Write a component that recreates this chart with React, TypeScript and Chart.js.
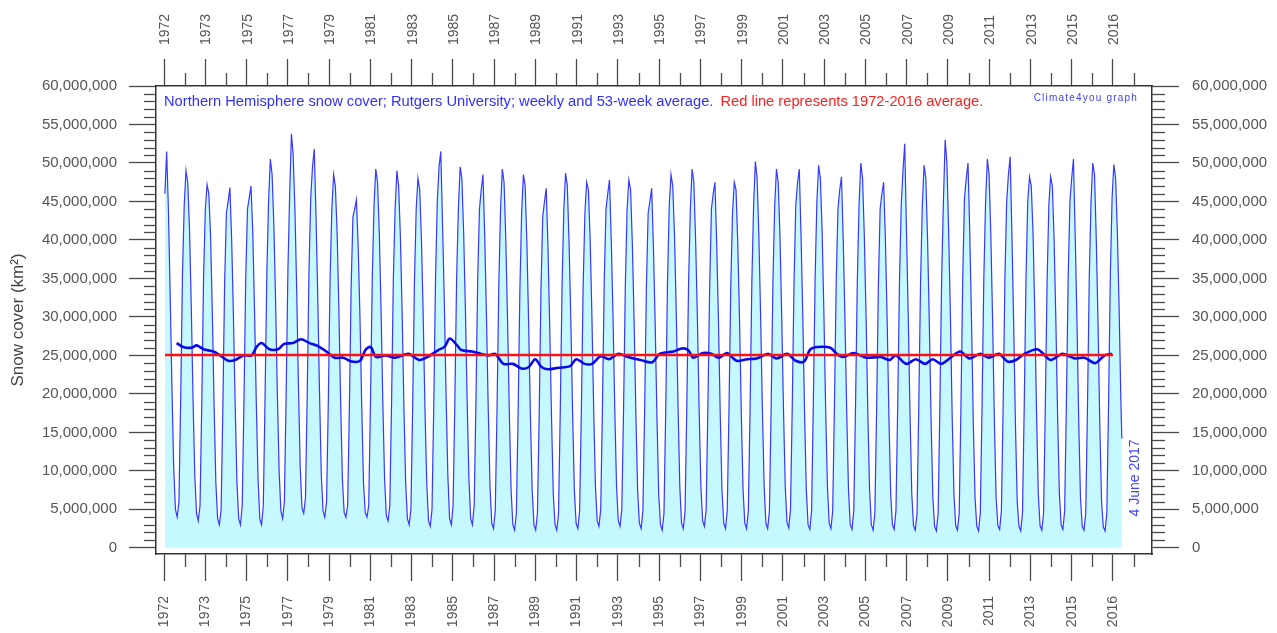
import React, { useEffect, useRef } from 'react';
import { Chart, registerables } from 'chart.js';
Chart.register(...registerables);

// ---------- DATA (million km²) ----------
const START_YEAR = 1972;
// monthly Northern Hemisphere snow cover, Jan..Dec, one row per year (1972..2017)
const SNOW_MONTHLY: number[][] = [
  [46.0, 51.5, 44.0, 33.0, 21.0, 10.5, 5.0, 4.0, 6.0, 19.5, 35.5, 44.5], // 1972
  [49.0, 47.5, 41.5, 31.5, 19.5, 9.5, 4.5, 3.5, 5.5, 19.0, 35.0, 44.0],  // 1973
  [47.2, 46.0, 40.5, 30.5, 18.5, 8.5, 3.8, 3.0, 5.0, 18.5, 34.5, 43.5],  // 1974
  [45.0, 46.8, 40.0, 30.0, 18.5, 8.5, 3.8, 3.0, 5.5, 19.0, 35.0, 44.0],  // 1975
  [45.5, 47.0, 41.0, 31.0, 19.0, 9.0, 3.8, 3.0, 5.5, 19.5, 35.5, 45.0],  // 1976
  [50.5, 48.5, 42.0, 32.0, 20.0, 10.0, 4.8, 3.8, 6.0, 20.0, 36.0, 46.0], // 1977
  [53.8, 51.0, 44.0, 33.5, 21.0, 10.5, 5.2, 4.5, 6.5, 20.0, 36.0, 45.5], // 1978
  [49.5, 51.8, 43.0, 32.5, 20.0, 9.5, 4.8, 4.0, 6.0, 19.0, 35.0, 44.0],  // 1979
  [48.5, 47.0, 41.0, 31.0, 19.0, 9.0, 4.6, 4.0, 5.5, 18.5, 34.0, 43.0],  // 1980
  [44.0, 45.2, 39.0, 30.0, 18.5, 8.5, 4.6, 4.0, 5.5, 19.0, 35.0, 44.5],  // 1981
  [49.2, 47.5, 41.0, 31.0, 19.0, 9.0, 4.2, 3.5, 5.5, 19.0, 35.0, 44.0],  // 1982
  [49.0, 47.0, 40.5, 30.5, 18.5, 8.5, 3.8, 3.0, 5.0, 18.5, 34.5, 44.0],  // 1983
  [48.0, 46.5, 40.0, 30.0, 18.0, 8.5, 3.5, 2.8, 5.0, 18.5, 35.0, 45.0],  // 1984
  [49.5, 51.5, 42.0, 32.0, 20.0, 9.5, 3.8, 3.0, 5.5, 19.0, 35.0, 44.0],  // 1985
  [49.5, 48.0, 41.0, 31.0, 19.0, 9.0, 3.8, 3.0, 5.5, 19.0, 35.0, 44.0],  // 1986
  [46.5, 48.5, 40.5, 30.0, 18.0, 8.0, 3.2, 2.5, 4.8, 18.0, 34.0, 44.0],  // 1987
  [49.2, 47.5, 40.0, 29.5, 17.5, 7.5, 3.0, 2.3, 4.5, 17.5, 33.5, 43.5],  // 1988
  [48.5, 47.0, 39.5, 29.0, 17.0, 7.5, 3.0, 2.3, 4.5, 17.5, 33.5, 43.0],  // 1989
  [45.0, 46.7, 39.0, 28.5, 17.0, 7.0, 3.0, 2.3, 4.5, 18.0, 34.0, 44.0],  // 1990
  [48.7, 47.0, 39.5, 29.5, 17.5, 7.5, 3.2, 2.5, 4.8, 18.0, 34.0, 43.5],  // 1991
  [47.5, 46.5, 40.0, 30.0, 18.0, 8.0, 3.5, 2.8, 5.0, 18.5, 34.5, 44.0],  // 1992
  [46.0, 47.8, 40.0, 30.0, 18.0, 8.0, 3.5, 2.8, 5.0, 18.0, 34.0, 44.0],  // 1993
  [47.8, 46.5, 39.5, 29.5, 17.5, 7.5, 3.2, 2.5, 4.8, 18.0, 34.0, 43.5],  // 1994
  [45.0, 46.7, 39.0, 29.0, 17.0, 7.0, 3.0, 2.3, 4.5, 18.0, 34.5, 44.5],  // 1995
  [48.5, 47.0, 40.5, 30.5, 18.5, 8.0, 3.2, 2.5, 4.8, 18.5, 34.5, 44.0],  // 1996
  [49.2, 47.5, 40.0, 30.0, 18.0, 8.0, 3.5, 2.8, 5.0, 18.5, 34.0, 44.0],  // 1997
  [46.0, 47.5, 39.5, 29.5, 17.5, 7.5, 3.2, 2.5, 4.8, 18.0, 34.0, 43.5],  // 1998
  [47.5, 46.5, 39.5, 29.5, 17.5, 7.5, 3.2, 2.5, 4.8, 18.0, 34.5, 44.5],  // 1999
  [50.2, 48.0, 40.5, 30.0, 18.0, 8.0, 3.2, 2.5, 4.8, 18.5, 34.5, 44.5],  // 2000
  [49.2, 47.5, 40.5, 30.0, 18.0, 8.0, 3.3, 2.6, 5.0, 18.5, 34.5, 44.5],  // 2001
  [47.5, 49.2, 40.5, 30.0, 17.5, 7.5, 3.0, 2.4, 4.8, 19.0, 35.0, 45.0],  // 2002
  [49.7, 48.0, 41.0, 30.5, 18.0, 8.0, 3.2, 2.5, 4.8, 18.5, 34.5, 44.0],  // 2003
  [46.5, 48.2, 40.0, 29.5, 17.5, 7.5, 3.0, 2.4, 4.8, 18.5, 34.5, 44.5],  // 2004
  [50.0, 48.0, 40.5, 30.0, 17.5, 7.5, 3.0, 2.3, 4.5, 18.0, 34.0, 44.0],  // 2005
  [46.0, 47.5, 40.0, 29.5, 17.0, 7.0, 3.0, 2.4, 4.8, 18.5, 34.5, 44.5],  // 2006
  [49.0, 52.5, 41.0, 30.0, 17.5, 7.0, 2.9, 2.3, 4.5, 18.5, 34.5, 44.5],  // 2007
  [49.7, 48.0, 40.0, 29.0, 16.5, 6.5, 2.8, 2.2, 4.5, 18.5, 35.0, 45.0],  // 2008
  [53.0, 50.0, 41.0, 30.0, 17.0, 7.0, 2.9, 2.3, 4.5, 18.5, 35.0, 45.5],  // 2009
  [48.0, 50.0, 41.0, 29.5, 16.5, 6.5, 2.8, 2.2, 4.5, 18.5, 35.0, 45.0],  // 2010
  [50.5, 48.5, 40.5, 29.5, 16.5, 6.5, 2.9, 2.4, 4.8, 18.5, 35.0, 45.0],  // 2011
  [48.5, 50.8, 40.5, 29.0, 16.0, 6.0, 2.8, 2.2, 4.5, 18.5, 35.0, 45.0],  // 2012
  [48.2, 47.0, 41.0, 30.5, 17.5, 7.0, 2.9, 2.3, 4.5, 18.5, 34.5, 44.5],  // 2013
  [48.2, 47.0, 40.0, 29.5, 17.0, 7.0, 3.0, 2.4, 4.8, 19.0, 35.0, 45.0],  // 2014
  [48.0, 50.5, 40.5, 29.5, 16.5, 6.5, 2.8, 2.3, 4.5, 18.5, 35.0, 45.0],  // 2015
  [50.0, 48.5, 40.0, 29.0, 16.0, 6.0, 2.7, 2.2, 4.5, 19.0, 35.5, 45.5],  // 2016
  [49.8, 48.0, 41.0, 31.0, 19.0],                                        // 2017
];
const LAST_WEEK_DATE = 2017.42; // 4 June 2017
const LAST_WEEK_VALUE = 14.2;

// 53-week running average (million km²)
const AVG_DATES = [1972.6,1972.9,1973.3,1973.55,1973.87,1974.34,1974.66,1975.05,1975.37,1975.76,1976.15,1976.39,1976.63,1977.0,1977.4,1977.7,1978.1,1978.5,1978.9,1979.3,1979.7,1980.1,1980.5,1980.9,1981.3,1981.55,1981.8,1982.05,1982.5,1982.95,1983.6,1984.1,1984.5,1985.0,1985.3,1985.55,1985.9,1986.1,1986.6,1986.9,1987.4,1987.7,1988.1,1988.55,1988.95,1989.3,1989.6,1989.9,1990.2,1990.7,1991.25,1991.55,1991.95,1992.3,1992.7,1993.1,1993.55,1994.0,1994.6,1995.15,1995.5,1996.15,1996.55,1996.85,1997.1,1997.55,1997.95,1998.3,1998.7,1999.15,1999.65,2000.1,2000.65,2001.05,2001.55,2001.95,2002.35,2002.65,2003.0,2003.6,2003.9,2004.2,2004.7,2005.3,2006.0,2006.4,2006.7,2007.2,2007.65,2008.1,2008.45,2008.85,2009.25,2009.75,2010.2,2010.7,2011.1,2011.6,2012.0,2012.4,2012.8,2013.4,2013.7,2014.05,2014.6,2015.2,2015.65,2016.15,2016.6,2016.95];
const AVG_VALUES = [26.6,26.1,26.0,26.3,25.8,25.5,25.0,24.3,24.4,25.0,25.0,26.1,26.6,25.8,25.8,26.5,26.6,27.1,26.6,26.2,25.5,24.7,24.7,24.2,24.3,25.7,26.1,24.8,25.0,24.7,25.2,24.4,24.8,25.7,26.1,27.2,26.3,25.7,25.5,25.3,25.0,25.2,23.9,23.9,23.3,23.5,24.5,23.5,23.2,23.4,23.6,24.5,23.9,23.9,24.9,24.5,25.2,24.8,24.4,24.1,25.2,25.5,25.9,25.7,24.7,25.3,25.2,24.7,25.3,24.3,24.5,24.6,25.2,24.6,25.2,24.3,24.2,25.8,26.1,26.0,25.2,24.8,25.3,24.7,24.8,24.4,25.0,23.9,24.5,23.9,24.5,23.9,24.6,25.5,24.6,25.2,24.7,25.2,24.2,24.4,25.2,25.8,25.2,24.4,25.2,24.6,24.7,24.0,25.0,25.2];

// 1972-2016 average (red line)
const MEAN_VALUE = 25.05;
const MEAN_SPAN = [1972.05, 2017.0];

// axis tick labels
const X_TICK_LABELS = ['1972','1973','1975','1977','1979','1981','1983','1985','1987','1989','1991','1993','1995','1997','1999','2001','2003','2005','2007','2009','2011','2013','2015','2016'];
const X_TICK_FIRST = 1972;
const X_TICK_LAST = 2017;
const Y_TICKS = [0, 5e6, 10e6, 15e6, 20e6, 25e6, 30e6, 35e6, 40e6, 45e6, 50e6, 55e6, 60e6];

const TITLE_BLUE = 'Northern Hemisphere snow cover; Rutgers University; weekly and 53-week average.';
const TITLE_RED = 'Red line represents 1972-2016 average.';
const CREDIT = 'Climate4you graph';
const DATE_NOTE = '4 June 2017';
const Y_TITLE = 'Snow cover (km\u00B2)';

// ---------- layout ----------
const W = 1277, H = 633;
const X_MIN = 1971.62, X_MAX = 2018.85;
const Y_MIN = -800000, Y_MAX = 60000000;
const FONT = '"Liberation Sans", Arial, Helvetica, sans-serif';

const xStep = (X_TICK_LAST - X_TICK_FIRST) / (X_TICK_LABELS.length - 1);
const xTickValues = X_TICK_LABELS.map((_, i) => X_TICK_FIRST + i * xStep);

const fmt = (v: number) => Math.round(v).toLocaleString('en-US');

const decorPlugin = {
  id: 'decor',
  afterDraw(chart: any) {
    const { ctx, chartArea: ca, scales } = chart;
    const xs = scales.x, ys = scales.y;
    ctx.save();
    ctx.strokeStyle = '#4a4a4a';
    ctx.lineWidth = 1.3;
    const line = (x1: number, y1: number, x2: number, y2: number) => {
      ctx.beginPath(); ctx.moveTo(x1, y1); ctx.lineTo(x2, y2); ctx.stroke();
    };
    // minor y ticks every 1,000,000
    for (let v = 0; v <= 60; v++) {
      if (v % 5 === 0) continue;
      const py = Math.round(ys.getPixelForValue(v * 1e6)) + 0.5;
      line(ca.left - 12, py, ca.left, py);
      line(ca.right, py, ca.right + 13, py);
    }
    // minor x ticks between majors
    for (let i = 0; i < X_TICK_LABELS.length; i++) {
      const v = X_TICK_FIRST + (i + 0.5) * xStep;
      if (v > X_MAX) break;
      const px = Math.round(xs.getPixelForValue(v)) + 0.5;
      line(px, ca.top - 13, px, ca.top);
      line(px, ca.bottom, px, ca.bottom + 13);
    }
    // title inside plot
    ctx.font = `14.7px ${FONT}`;
    ctx.textBaseline = 'middle';
    ctx.textAlign = 'left';
    ctx.fillStyle = '#3030ff';
    const tx = ca.left + 8, ty = 102;
    ctx.fillText(TITLE_BLUE, tx, ty);
    const w1 = ctx.measureText(TITLE_BLUE).width;
    ctx.fillStyle = '#ff2020';
    ctx.fillText(TITLE_RED, tx + w1 + 7, ty);
    // credit
    ctx.font = `10px ${FONT}`;
    (ctx as any).letterSpacing = '1.2px';
    ctx.fillStyle = '#4040ff';
    ctx.textAlign = 'right';
    ctx.fillText(CREDIT, 1138, 98);
    (ctx as any).letterSpacing = '0px';
    // date note, vertical
    ctx.save();
    ctx.translate(1135, 478);
    ctx.rotate(-Math.PI / 2);
    ctx.font = `14px ${FONT}`;
    ctx.fillStyle = '#4444ff';
    ctx.textAlign = 'center';
    ctx.fillText(DATE_NOTE, 0, 0);
    ctx.restore();
    ctx.restore();
  },
};

function xAxis(position: 'top' | 'bottom', height: number, padding: number, labelOffset: number) {
  return {
    type: 'linear',
    position,
    min: X_MIN,
    max: X_MAX,
    afterBuildTicks: (s: any) => { s.ticks = xTickValues.map((v) => ({ value: v })); },
    afterFit: (s: any) => { s.height = height; },
    ticks: {
      autoSkip: false,
      maxRotation: 90,
      minRotation: 90,
      padding,
      labelOffset,
      color: '#555',
      font: { family: FONT, size: 14 },
      callback: (_v: any, i: number) => X_TICK_LABELS[i],
    },
    grid: { drawOnChartArea: false, drawTicks: true, tickLength: 27, tickColor: '#4a4a4a', tickWidth: 1.3 },
    border: { display: true, color: '#333', width: 1.5 },
  };
}

function yAxis(position: 'left' | 'right', width: number, padding: number, withTitle: boolean) {
  return {
    type: 'linear',
    position,
    min: Y_MIN,
    max: Y_MAX,
    afterBuildTicks: (s: any) => { s.ticks = Y_TICKS.map((v) => ({ value: v })); },
    afterFit: (s: any) => { s.width = width; },
    ticks: {
      padding,
      color: '#555',
      font: { family: FONT, size: 15 },
      callback: (v: any) => fmt(Number(v)),
    },
    grid: { drawOnChartArea: false, drawTicks: true, tickLength: 27, tickColor: '#4a4a4a', tickWidth: 1.3 },
    border: { display: true, color: '#333', width: 1.5 },
    title: withTitle
      ? { display: true, text: Y_TITLE, color: '#444', font: { family: FONT, size: 17 }, padding: { top: 8, bottom: 0 } }
      : { display: false },
  };
}

export default function App() {
  const ref = useRef<HTMLCanvasElement | null>(null);
  useEffect(() => {
    if (!ref.current) return;
    const weekly: { x: number; y: number }[] = [];
    SNOW_MONTHLY.forEach((row, r) => {
      row.forEach((v, m) => weekly.push({ x: START_YEAR + r + (m + 0.5) / 12, y: v * 1e6 }));
    });
    weekly.push({ x: LAST_WEEK_DATE, y: LAST_WEEK_VALUE * 1e6 });
    const avg = AVG_DATES.map((d, i) => ({ x: d, y: AVG_VALUES[i] * 1e6 }));
    const mean = MEAN_SPAN.map((d) => ({ x: d, y: MEAN_VALUE * 1e6 }));

    const chart = new Chart(ref.current, {
      type: 'line',
      data: {
        datasets: [
          { label: 'weekly', data: weekly, borderColor: '#3838ff', borderWidth: 1.2, backgroundColor: '#c6f8ff', fill: 'origin', pointRadius: 0, tension: 0, order: 3 },
          { label: '53-week', data: avg, borderColor: '#0a0ae6', borderWidth: 2.6, fill: false, pointRadius: 0, tension: 0.3, order: 2 },
          { label: 'mean', data: mean, borderColor: '#ff1010', borderWidth: 2.4, fill: false, pointRadius: 0, order: 1 },
        ],
      },
      options: {
        responsive: false,
        animation: false,
        devicePixelRatio: 1,
        layout: { padding: 0 },
        plugins: { legend: { display: false }, tooltip: { enabled: false }, title: { display: false } },
        scales: {
          x: xAxis('bottom', 633 - 554, 15, 0),
          x2: xAxis('top', 86, 14, 18),
          y: yAxis('left', 156, 12, true),
          y2: yAxis('right', W - 1152, 13, false),
        } as any,
      },
      plugins: [decorPlugin],
    } as any);
    return () => chart.destroy();
  }, []);
  return (
    <div style={{ position: 'absolute', left: 0, top: 0, width: W, height: H, background: '#fff' }}>
      <canvas ref={ref} width={W} height={H} />
    </div>
  );
}
